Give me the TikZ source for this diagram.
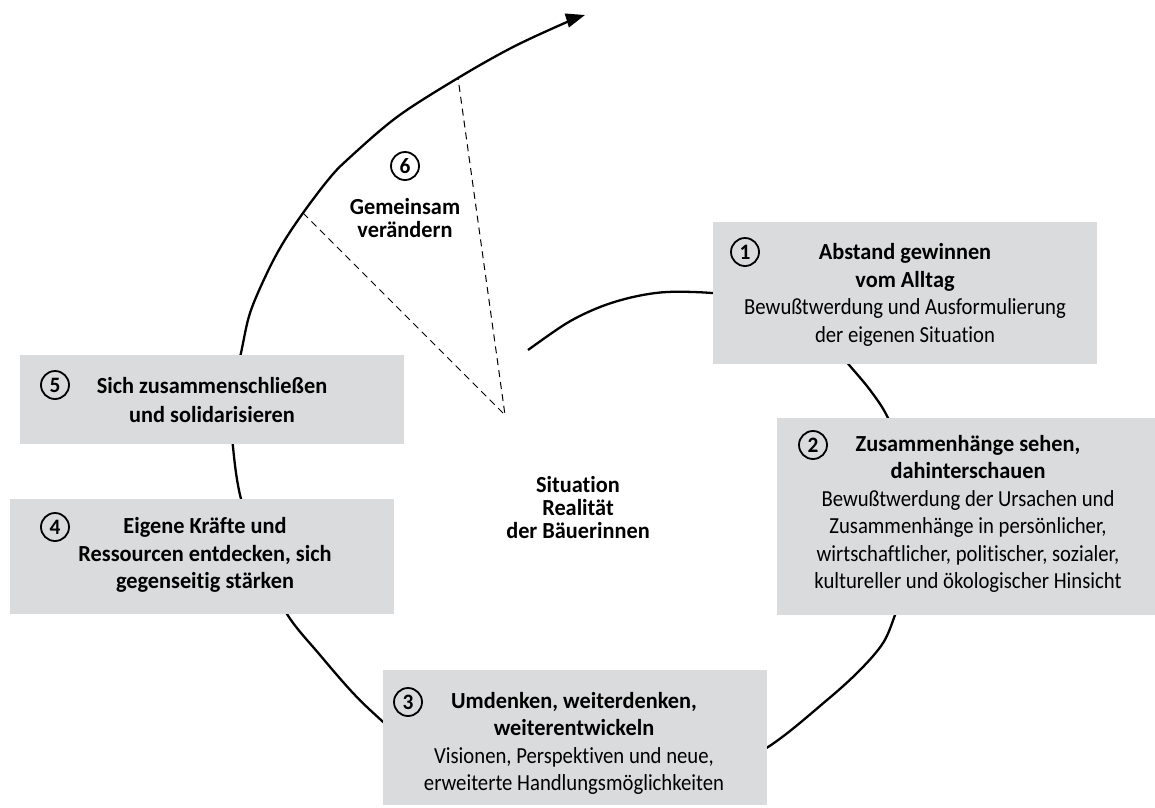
\documentclass[tikz,border=0pt]{standalone}
\usepackage{fontspec}
\setmainfont{Carlito}[Ligatures=NoCommon, FakeStretch=0.9, BoldFeatures={FakeStretch=0.97}]
\usetikzlibrary{arrows.meta}
\definecolor{boxgray}{RGB}{218,219,220}
\begin{document}
\begin{tikzpicture}[x=1pt,y=-1pt,
  box/.style={fill=boxgray, draw=none, inner sep=0pt, outer sep=0pt},
  txt/.style={align=center, font=\fontsize{23}{27.5}\selectfont, inner sep=0pt},
  num/.style={circle, draw, line width=1.8pt, minimum size=28pt, inner sep=0pt, font=\fontsize{22}{22}\selectfont\bfseries},
  spiral/.style={line width=2.3pt},
  guide/.style={line width=1pt, dash pattern=on 7pt off 5pt}]
\useasboundingbox (0,0) rectangle (1155,807);

% spiral
\draw[spiral, -{Triangle[length=19pt,width=14pt]}] plot[smooth, tension=0.55] coordinates {
 (528,350) (567,323) (600,307) (633,297) (667,292) (712,293) (755,299) (790,312) (824,336)
 (850,366) (870,390) (887,416) (905,460) (914,515) (910,570) (895,615) (883,643) (860,670)
 (827,700) (768,747) (700,781) (630,795) (560,797) (490,787) (430,763) (381,720) (353,693)
 (320,655) (287,614) (262,560) (241,499) (233,447) (231,400) (241,353) (250,313) (267,273)
 (283,243) (303,213) (328,180) (347,160) (397,117) (458,78) (513,47) (567,22) (585,15)};

% dashed sector
\coordinate (apex) at (505,415);
\coordinate (g1) at (303,213);
\coordinate (g2) at (458,78);
\draw[guide] (g1) -- (apex) -- (g2);

% boxes
\node[box, minimum width=384pt, minimum height=142pt] (b1) at (905,293) {};
\node[box, minimum width=378pt, minimum height=197pt] (b2) at (966,516.5) {};
\node[box, minimum width=384pt, minimum height=135pt] (b3) at (575,737.5) {};
\node[box, minimum width=384pt, minimum height=115pt] (b4) at (202,556.5) {};
\node[box, minimum width=384pt, minimum height=89pt] (b5) at (212,399.5) {};

% numbers
\node[num] (n1) at (745,252) {1};
\node[num] (n2) at (813,445) {2};
\node[num] (n3) at (408,702) {3};
\node[num] (n4) at (55,527) {4};
\node[num] (n5) at (55,385) {5};
\node[num] (n6) at (405,166) {6};

% texts
\node[txt] (t1) at (905,295) {\textbf{Abstand gewinnen}\\\textbf{vom Alltag}\\Bewußtwerdung und Ausformulierung\\der eigenen Situation};
\node[txt] (t2) at (968,514) {\textbf{Zusammenhänge sehen,}\\\textbf{dahinterschauen}\\Bewußtwerdung der Ursachen und\\Zusammenhänge in persönlicher,\\wirtschaftlicher, politischer, sozialer,\\kultureller und ökologischer Hinsicht};
\node[txt] (t3) at (574,743.5) {\textbf{Umdenken, weiterdenken,}\\\textbf{weiterentwickeln}\\Visionen, Perspektiven und neue,\\erweiterte Handlungsmöglichkeiten};
\node[txt, font=\fontsize{23}{27.5}\selectfont\bfseries] (t4) at (205,555) {Eigene Kräfte und\\Ressourcen entdecken, sich\\gegenseitig stärken};
\node[txt, font=\fontsize{23}{29}\selectfont\bfseries] (t5) at (212,400) {Sich zusammenschließen\\und solidarisieren};
\node[txt, font=\fontsize{23}{23}\selectfont\bfseries] (t6) at (405,218) {Gemeinsam\\verändern};
\node[txt, font=\fontsize{23}{23}\selectfont\bfseries] (t0) at (578,508) {Situation\\Realität\\der Bäuerinnen};
\end{tikzpicture}
\end{document}
